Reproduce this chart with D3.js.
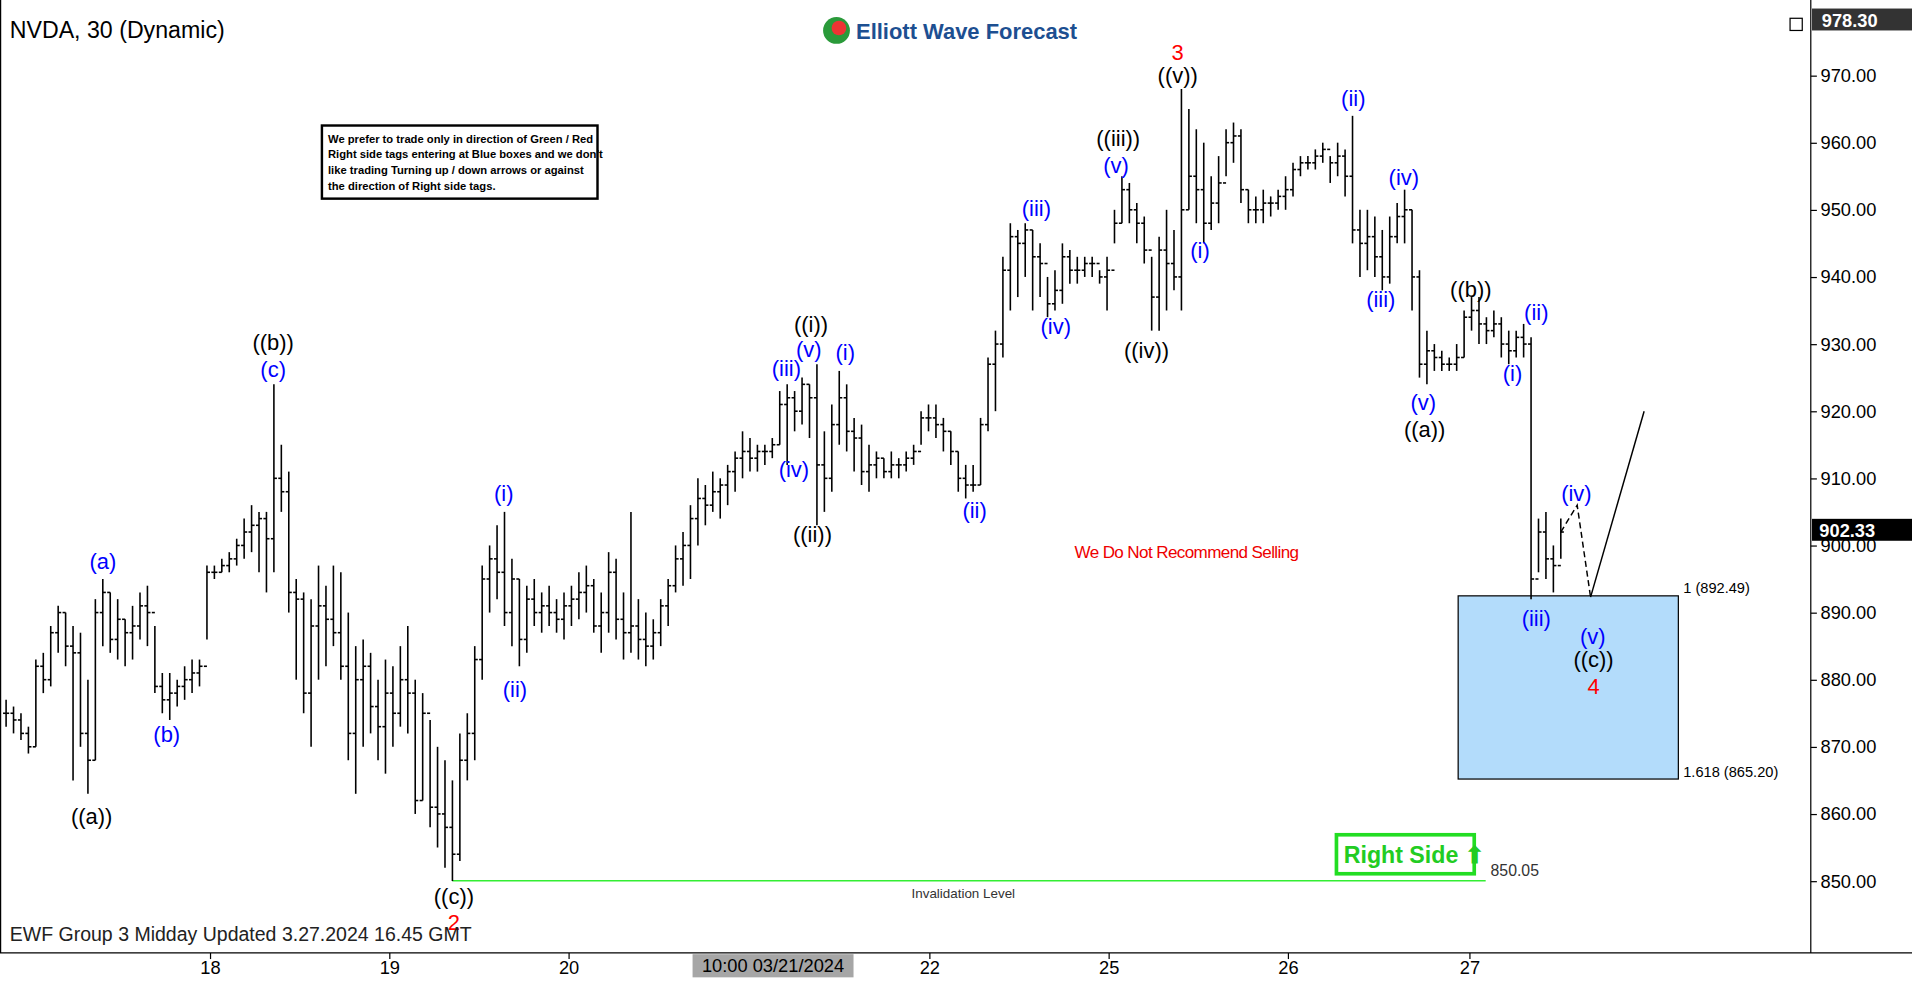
<!DOCTYPE html>
<html><head><meta charset="utf-8">
<script src="https://cdn.jsdelivr.net/npm/d3@7"></script>
<style>body{margin:0;background:#fff;overflow:hidden}svg{display:block}text{font-family:Arial,"Liberation Sans",sans-serif}</style>
</head><body>
<svg id="chart"></svg>
<script>
// [high, low, close] per 30 min bar, open = previous close
var bars=[
[877,873,875],[876,872,874],[875,871,872],[873,869,870],[883,870,882],[884,878,880],[888,879,887],[891,884,890],[890,882,885],[888,865,884],
[887,870,872],[880,863,868],[892,868,890],[895,885,893],[893,884,886],[892,883,889],[889,882,887],[891,883,888],[893,886,891],[894,885,890],
[888,878,879],[881,875,877],[881,874,878],[880,876,879],[882,877,880],[883,878,881],[883,879,882],[897,886,896],[897,895,896],[898,896,897],
[899,896,898],[901,897,900],[904,898,902],[906,899,903],[905,896,904],[905,893,901],[924,896,910],[915,905,908],[911,890,893],[895,880,892],
[893,875,878],[892,870,888],[897,880,891],[894,882,889],[897,885,887],[896,880,882],[890,868,872],[885,863,880],[886,870,882],[884,872,876],
[880,868,873],[883,866,878],[882,870,875],[885,873,880],[888,872,878],[880,860,862],[878,862,875],[874,858,861],[870,855,860],[868,852,858],
[865,850,854],[872,853,868],[875,865,872],[885,868,883],[897,880,895],[900,890,898],[903,892,896],[905,888,890],[898,885,895],[895,882,886],
[894,884,892],[895,888,890],[893,887,891],[894,888,890],[892,887,889],[893,886,891],[894,888,892],[896,889,893],[897,890,894],[895,887,888],
[893,884,890],[899,887,896],[898,886,889],[893,883,887],[905,884,888],[892,883,886],[890,882,885],[889,883,887],[892,885,891],[895,888,894],
[900,893,898],[902,894,900],[906,895,904],[910,900,907],[909,903,906],[911,905,908],[910,904,909],[912,906,911],[914,908,913],[917,910,914],
[916,911,913],[915,911,914],[915,912,914],[916,913,915],[923,915,921],[924,912,922],[923,917,920],[925,918,924],[924,916,922],[927,903,912],
[917,905,910],[921,908,918],[926,915,922],[924,914,917],[919,911,916],[918,909,911],[915,908,912],[914,910,913],[913,910,911],[914,910,912],
[913,910,912],[914,911,913],[915,912,914],[920,915,919],[921,917,919],[921,916,918],[919,914,917],[917,912,914],[914,908,910],[912,907,909],
[912,908,909],[919,909,918],[928,917,927],[932,920,930],[943,928,941],[948,935,946],[947,937,945],[948,940,947],[947,935,943],[945,937,942],
[940,934,936],[941,935,938],[945,936,943],[944,939,941],[943,939,941],[943,940,942],[943,940,942],[941,939,940],[943,935,941],[950,945,948],
[955,948,953],[954,948,950],[951,945,948],[949,942,944],[943,932,937],[946,932,944],[950,935,942],[947,938,940],[968,935,950],[965,950,955],
[962,948,953],[960,945,948],[955,947,951],[958,948,954],[962,955,960],[963,957,961],[962,951,953],[953,948,950],[952,948,950],[953,948,951],
[952,949,951],[953,950,952],[955,950,953],[957,952,956],[958,955,957],[958,956,957],[959,956,958],[960,957,959],[958,954,957],[960,955,958],
[959,952,955],[964,945,947],[950,940,945],[950,941,946],[949,940,943],[947,938,940],[949,939,946],[951,945,949],[953,945,950],[950,935,940],
[941,925,927],[932,924,929],[930,926,928],[929,926,927],[928,926,927],[930,926,928],[935,928,934],[937,932,935],[937,930,933],[934,930,932],
[935,931,933],[934,928,930],[932,927,929],[932,928,931],[933,928,930],[931,892,895],[904,896,902],[905,895,898],[900,893,897],[904,898,902]
];
var priceTicks=[850,860,870,880,890,900,910,920,930,940,950,960,970];
var dayTicks=[["18",27.4],["19",51.5],["20",75.6],["22",124.1],["25",148.2],["26",172.3],["27",196.7]];
var hiTick=["10:00 03/21/2024",103.1];
// [text, bar index, price, colour]
var labels=[
["((a))",11.5,859.6,"k"],["(a)",13,897.7,"b"],["(b)",21.6,871.8,"b"],["((b))",35.9,930.2,"k"],["(c)",35.9,926.2,"b"],
["(i)",66.9,907.7,"b"],["(ii)",68.4,878.5,"b"],["((c))",60.2,847.8,"k"],["2",60.2,843.8,"r"],
["(iii)",104.9,926.4,"b"],["(v)",107.9,929.2,"b"],["((i))",108.2,933.0,"k"],["(iv)",105.9,911.4,"b"],["((ii))",108.4,901.7,"k"],
["(i)",112.8,928.8,"b"],["(ii)",130.2,905.2,"b"],["(iii)",138.5,950.2,"b"],["(iv)",141.1,932.6,"b"],["(v)",149.2,956.6,"b"],
["((iii))",149.5,960.7,"k"],["((iv))",153.3,929.0,"k"],["((v))",157.5,970,"k"],["3",157.5,973.4,"r"],
["(i)",160.5,944.0,"b"],["(ii)",181.1,966.6,"b"],["(iii)",184.8,936.6,"b"],["(iv)",187.9,954.9,"b"],["(v)",190.5,921.3,"b"],
["((a))",190.7,917.3,"k"],["((b))",196.9,938.2,"k"],["(i)",202.5,925.7,"b"],["(ii)",205.7,934.8,"b"],["(iii)",205.7,889.2,"b"],
["(iv)",211.1,907.7,"b"],["(v)",213.3,886.5,"b"],["((c))",213.4,883.0,"k"],["4",213.4,879.0,"r"]
];
var projDash=[[209,902],[211.2,906],[213,892.3]];
var projSolid=[[213,892.3],[220.2,920]];
var boxIdx=[195.2,224.8], boxPrice=[892.49,865.20];
var invalid=[60,198.9,850.05];
var lastPrice=902.33, topPrice=978.30;

var W=1568,H=805;
var svg=d3.select('#chart').attr('width',1912).attr('height',981)
  .attr('viewBox','0 0 '+W+' '+H).attr('preserveAspectRatio','none');
var x=d3.scaleLinear().domain([0,209]).range([5,1280]);
var y=d3.scaleLinear().domain([850,970]).range([723,62]);
var col={k:"#000",b:"#0000ff",r:"#ff0000"};

// frame
svg.append('line').attr('x1',1485).attr('x2',1485).attr('y1',0).attr('y2',782).attr('stroke','#000');
svg.append('line').attr('x1',0).attr('x2',1568).attr('y1',782).attr('y2',782).attr('stroke','#000');
svg.append('line').attr('x1',0.5).attr('x2',0.5).attr('y1',0).attr('y2',782).attr('stroke','#000');

// right axis
var ya=svg.append('g').attr('transform','translate(1485,0)')
  .call(d3.axisRight(y).tickValues(priceTicks).tickFormat(d3.format('.2f')).tickSize(5));
ya.select('.domain').remove();
ya.selectAll('text').attr('font-size',15).attr('fill','#000').attr('x',8);

// bottom axis
var xa=svg.append('g').attr('transform','translate(0,782)')
  .call(d3.axisBottom(x).tickValues(dayTicks.map(d=>d[1])).tickFormat((d,i)=>dayTicks[i][0]).tickSize(5));
xa.select('.domain').remove();
xa.selectAll('text').attr('font-size',15).attr('fill','#000').attr('dy','0.6em');
svg.append('rect').attr('x',x(hiTick[1])-66).attr('y',783).attr('width',132).attr('height',19).attr('fill','#a6a6a6');
svg.append('text').attr('x',x(hiTick[1])).attr('y',798).attr('text-anchor','middle').attr('font-size',15).text(hiTick[0]);

// target box
svg.append('rect').attr('x',x(boxIdx[0])).attr('y',y(boxPrice[0])).attr('width',x(boxIdx[1])-x(boxIdx[0]))
  .attr('height',y(boxPrice[1])-y(boxPrice[0])).attr('fill','#b3dcfb').attr('stroke','#000');
svg.append('text').attr('x',x(boxIdx[1])+4).attr('y',y(boxPrice[0])-2).attr('font-size',12).text('1 (892.49)');
svg.append('text').attr('x',x(boxIdx[1])+4).attr('y',y(boxPrice[1])-2).attr('font-size',12).text('1.618 (865.20)');

// invalidation
svg.append('line').attr('x1',x(invalid[0])).attr('x2',x(invalid[1])).attr('y1',y(invalid[2])).attr('y2',y(invalid[2])).attr('stroke','#33ee33').attr('stroke-width',1.3);
svg.append('text').attr('x',x(invalid[1])+4).attr('y',y(invalid[2])-4).attr('font-size',13).attr('fill','#333').text('850.05');
svg.append('text').attr('x',790).attr('y',737).attr('text-anchor','middle').attr('font-size',11).attr('fill','#333').text('Invalidation Level');

// bars
var g=svg.append('g').attr('stroke','#000').attr('stroke-width',1.3);
bars.forEach(function(b,i){
  var o=i>0?bars[i-1][2]:b[2];
  var cx=x(i);
  g.append('line').attr('x1',cx).attr('x2',cx).attr('y1',y(b[0])).attr('y2',y(b[1]));
  g.append('line').attr('x1',cx-2.5).attr('x2',cx).attr('y1',y(o)).attr('y2',y(o));
  g.append('line').attr('x1',cx).attr('x2',cx+2.5).attr('y1',y(b[2])).attr('y2',y(b[2]));
});

// projection
var ln=d3.line().x(d=>x(d[0])).y(d=>y(d[1]));
svg.append('path').attr('d',ln(projDash)).attr('fill','none').attr('stroke','#000').attr('stroke-dasharray','5,3').attr('stroke-width',1.2);
svg.append('path').attr('d',ln(projSolid)).attr('fill','none').attr('stroke','#000').attr('stroke-width',1.2);

// labels
svg.append('g').selectAll('text').data(labels).join('text')
  .attr('x',d=>x(d[1])).attr('y',d=>y(d[2])).attr('dy','0.35em').attr('text-anchor','middle')
  .attr('font-size',18).attr('fill',d=>col[d[3]]).text(d=>d[0]);

// price tags
svg.append('rect').attr('x',1486).attr('y',y(lastPrice)-9).attr('width',82).attr('height',18).attr('fill','#000');
svg.append('text').attr('x',1492).attr('y',y(lastPrice)+6).attr('font-size',15).attr('font-weight','bold').attr('fill','#fff').text(lastPrice.toFixed(2));
svg.append('rect').attr('x',1486).attr('y',7).attr('width',82).attr('height',18).attr('fill','#333');
svg.append('text').attr('x',1494).attr('y',22).attr('font-size',15).attr('font-weight','bold').attr('fill','#fff').text(topPrice.toFixed(2));
svg.append('rect').attr('x',1468).attr('y',15).attr('width',10).attr('height',10).attr('fill','none').attr('stroke','#000');

// titles and notes
svg.append('text').attr('x',8).attr('y',31).attr('font-size',19).text('NVDA, 30 (Dynamic)');
svg.append('circle').attr('cx',686).attr('cy',25).attr('r',11).attr('fill','#2a9a3a');
svg.append('circle').attr('cx',688).attr('cy',23).attr('r',6).attr('fill','#e33');
svg.append('text').attr('x',702).attr('y',32).attr('font-size',18).attr('font-weight','bold').attr('fill','#1d4f91').text('Elliott Wave Forecast');
svg.append('text').attr('x',973).attr('y',458).attr('text-anchor','middle').attr('font-size',14).attr('fill','#e00').attr('letter-spacing','-0.5').text('We Do Not Recommend Selling');
svg.append('text').attr('x',8).attr('y',772).attr('font-size',16).attr('fill','#222').text('EWF Group 3 Midday Updated 3.27.2024 16.45 GMT');

var note=svg.append('g');
note.append('rect').attr('x',264).attr('y',103).attr('width',226).attr('height',60).attr('fill','#fff').attr('stroke','#000').attr('stroke-width',2);
["We prefer to trade only in direction of Green / Red","Right side tags entering at Blue boxes and we don't",
 "like trading Turning up / down arrows or against","the direction of Right side tags."].forEach(function(t,i){
  note.append('text').attr('x',269).attr('y',117+i*13).attr('font-size',9.2).attr('font-weight','bold').text(t);
});

// right side tag
svg.append('rect').attr('x',1096).attr('y',685).attr('width',113).attr('height',32).attr('fill','#fff').attr('stroke','#22dd22').attr('stroke-width',3);
svg.append('text').attr('x',1102).attr('y',708).attr('font-size',19).attr('font-weight','bold').attr('fill','#22cc22').text('Right Side \u2b06');
</script>
</body></html>
